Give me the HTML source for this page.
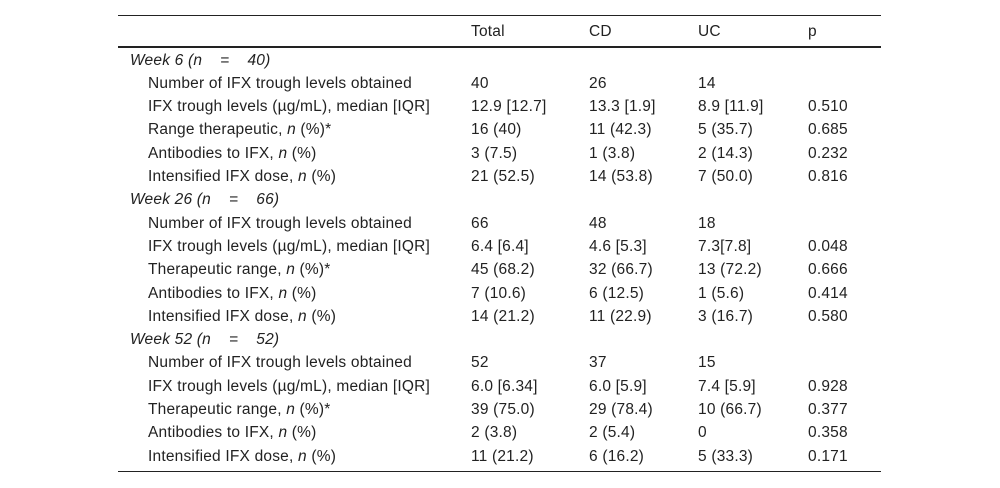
<!DOCTYPE html>
<html><head><meta charset="utf-8"><style>
body{margin:0;width:1000px;height:488px;background:#fff;font-family:"Liberation Sans",Arial,sans-serif;font-size:15.5px;letter-spacing:0.2px;color:#222;position:relative;overflow:hidden}
.l{position:absolute;left:118px;width:763px;background:#222}
.r{position:absolute;left:0;width:1000px;height:20px;line-height:20px;white-space:nowrap}
.r span{position:absolute}
.c0{left:148px}.c0.s{left:130px;font-style:italic}
.c1{left:471px}.c2{left:589px}.c3{left:698px}.c4{left:808px}
</style></head><body>
<div class="l" style="top:15px;height:1px"></div>
<div class="l" style="top:46px;height:2px"></div>
<div class="l" style="top:471px;height:1px"></div>
<div class="r" style="top:22px"><span class="c1">Total</span><span class="c2">CD</span><span class="c3">UC</span><span class="c4">p</span></div>
<div id="rows"></div>
<script>
const rows=[
["s","Week 6 (n&nbsp;&nbsp;&nbsp;&nbsp;=&nbsp;&nbsp;&nbsp;&nbsp;40)"],
["Number of IFX trough levels obtained","40","26","14",""],
["IFX trough levels (µg/mL), median [IQR]","12.9 [12.7]","13.3 [1.9]","8.9 [11.9]","0.510"],
["Range therapeutic, <i>n</i> (%)*","16 (40)","11 (42.3)","5 (35.7)","0.685"],
["Antibodies to IFX, <i>n</i> (%)","3 (7.5)","1 (3.8)","2 (14.3)","0.232"],
["Intensified IFX dose, <i>n</i> (%)","21 (52.5)","14 (53.8)","7 (50.0)","0.816"],
["s","Week 26 (n&nbsp;&nbsp;&nbsp;&nbsp;=&nbsp;&nbsp;&nbsp;&nbsp;66)"],
["Number of IFX trough levels obtained","66","48","18",""],
["IFX trough levels (µg/mL), median [IQR]","6.4 [6.4]","4.6 [5.3]","7.3[7.8]","0.048"],
["Therapeutic range, <i>n</i> (%)*","45 (68.2)","32 (66.7)","13 (72.2)","0.666"],
["Antibodies to IFX, <i>n</i> (%)","7 (10.6)","6 (12.5)","1 (5.6)","0.414"],
["Intensified IFX dose, <i>n</i> (%)","14 (21.2)","11 (22.9)","3 (16.7)","0.580"],
["s","Week 52 (n&nbsp;&nbsp;&nbsp;&nbsp;=&nbsp;&nbsp;&nbsp;&nbsp;52)"],
["Number of IFX trough levels obtained","52","37","15",""],
["IFX trough levels (µg/mL), median [IQR]","6.0 [6.34]","6.0 [5.9]","7.4 [5.9]","0.928"],
["Therapeutic range, <i>n</i> (%)*","39 (75.0)","29 (78.4)","10 (66.7)","0.377"],
["Antibodies to IFX, <i>n</i> (%)","2 (3.8)","2 (5.4)","0","0.358"],
["Intensified IFX dose, <i>n</i> (%)","11 (21.2)","6 (16.2)","5 (33.3)","0.171"]];
const c=document.getElementById('rows');
rows.forEach((r,i)=>{
 const d=document.createElement('div');d.className='r';
 d.style.top=(50.5+i*23.3)+'px';
 
 
 if(r[0]==='s'){d.innerHTML='<span class="c0 s">'+r[1]+'</span>';}
 else{d.innerHTML=r.map((t,j)=>'<span class="c'+j+'">'+t+'</span>').join('');}
 c.appendChild(d);
});
</script>
</body></html>
